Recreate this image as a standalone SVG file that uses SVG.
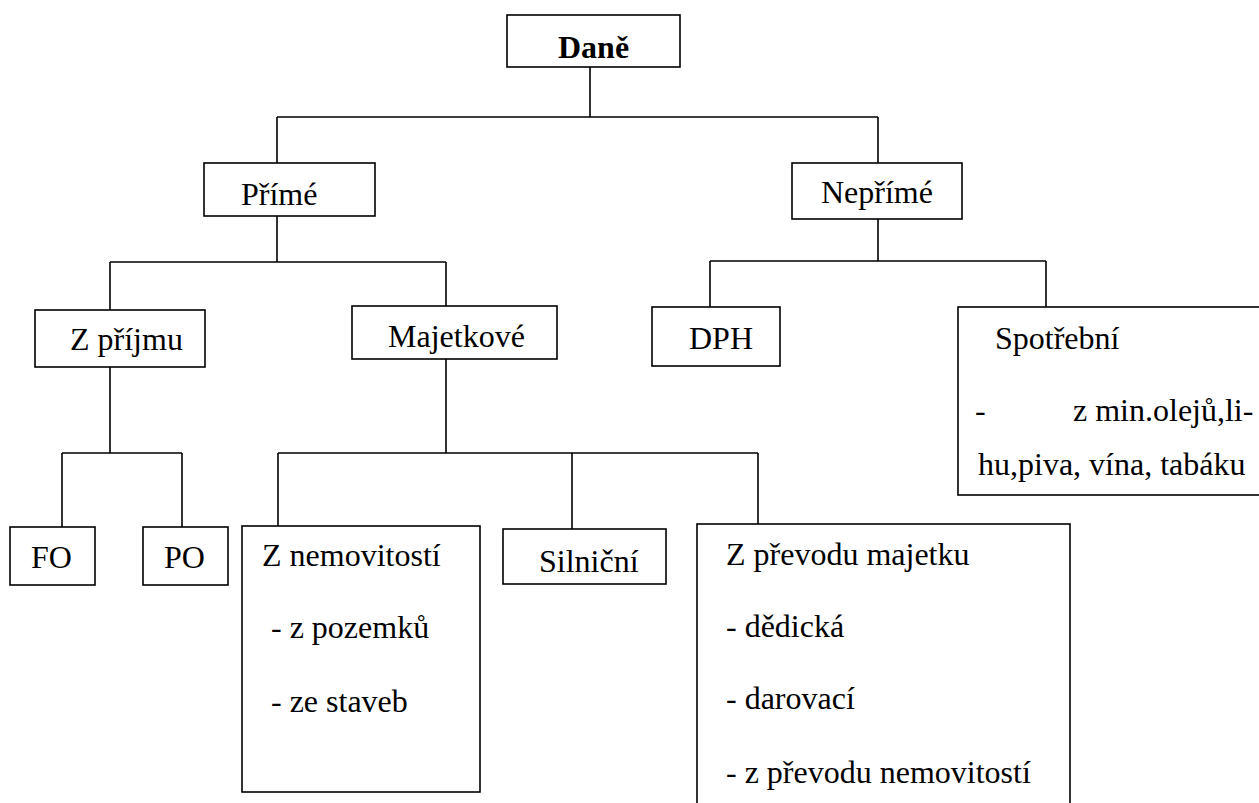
<svg xmlns="http://www.w3.org/2000/svg" width="1259" height="803" viewBox="0 0 1259 803">
<style>
.box{fill:#fff;stroke:#000;stroke-width:1.6}
.ln{fill:none;stroke:#000;stroke-width:1.6}
</style>
<rect width="1259" height="803" fill="#fff"/>
<g id="connectors">
<path class="ln" d="M590 67V117M277 117H878M277 117V163M878 117V163"/>
<path class="ln" d="M277 216V262M110 262H446M110 262V310M446 262V306"/>
<path class="ln" d="M878 219V261M710 261H1046M710 261V307M1046 261V307"/>
<path class="ln" d="M110 367V453M62 453H182M62 453V527M182 453V527"/>
<path class="ln" d="M446 359V453M278 453H758M278 453V526M572 453V529M758 453V524"/>
</g>
<g id="dane"><rect class="box" x="507" y="15" width="173" height="52"/><text x="558" y="58" font-family="Liberation Serif, serif" font-size="32" font-weight="bold">Daně</text></g>
<g id="prime"><rect class="box" x="204" y="163" width="171" height="53"/><text x="241" y="205" font-family="Liberation Serif, serif" font-size="32">Přímé</text></g>
<g id="neprime"><rect class="box" x="792" y="163" width="170" height="56"/><text x="821" y="203" font-family="Liberation Serif, serif" font-size="32">Nepřímé</text></g>
<g id="zprijmu"><rect class="box" x="35" y="310" width="170" height="57"/><text x="70" y="350" font-family="Liberation Serif, serif" font-size="32">Z příjmu</text></g>
<g id="majetkove"><rect class="box" x="352" y="306" width="205" height="53"/><text x="388" y="347" font-family="Liberation Serif, serif" font-size="32">Majetkové</text></g>
<g id="dph"><rect class="box" x="652" y="307" width="128" height="59"/><text x="689" y="349" font-family="Liberation Serif, serif" font-size="32">DPH</text></g>
<g id="spotrebni"><rect class="box" x="958" y="307" width="310" height="188"/><text x="995" y="349" font-family="Liberation Serif, serif" font-size="32">Spotřební</text><text x="975" y="421" font-family="Liberation Serif, serif" font-size="32">-</text><text x="1073" y="421" font-family="Liberation Serif, serif" font-size="32">z min.olejů,li-</text><text x="978" y="475" font-family="Liberation Serif, serif" font-size="32">hu,piva, vína, tabáku</text></g>
<g id="fo"><rect class="box" x="10" y="527" width="85" height="58"/><text x="31" y="568" font-family="Liberation Serif, serif" font-size="32">FO</text></g>
<g id="po"><rect class="box" x="143" y="527" width="85" height="58"/><text x="164" y="568" font-family="Liberation Serif, serif" font-size="32">PO</text></g>
<g id="znemovitosti"><rect class="box" x="242" y="526" width="238" height="266"/><text x="262" y="566" font-family="Liberation Serif, serif" font-size="32">Z nemovitostí</text><text x="271" y="638" font-family="Liberation Serif, serif" font-size="32">- z pozemků</text><text x="271" y="712" font-family="Liberation Serif, serif" font-size="32">- ze staveb</text></g>
<g id="silnicni"><rect class="box" x="503" y="529" width="163" height="55"/><text x="539" y="572" font-family="Liberation Serif, serif" font-size="32">Silniční</text></g>
<g id="zprevodu"><rect class="box" x="697" y="524" width="373" height="300"/><text x="726" y="565" font-family="Liberation Serif, serif" font-size="32">Z převodu majetku</text><text x="726" y="637" font-family="Liberation Serif, serif" font-size="32">- dědická</text><text x="726" y="709" font-family="Liberation Serif, serif" font-size="32">- darovací</text><text x="726" y="783" font-family="Liberation Serif, serif" font-size="32">- z převodu nemovitostí</text></g>
</svg>
